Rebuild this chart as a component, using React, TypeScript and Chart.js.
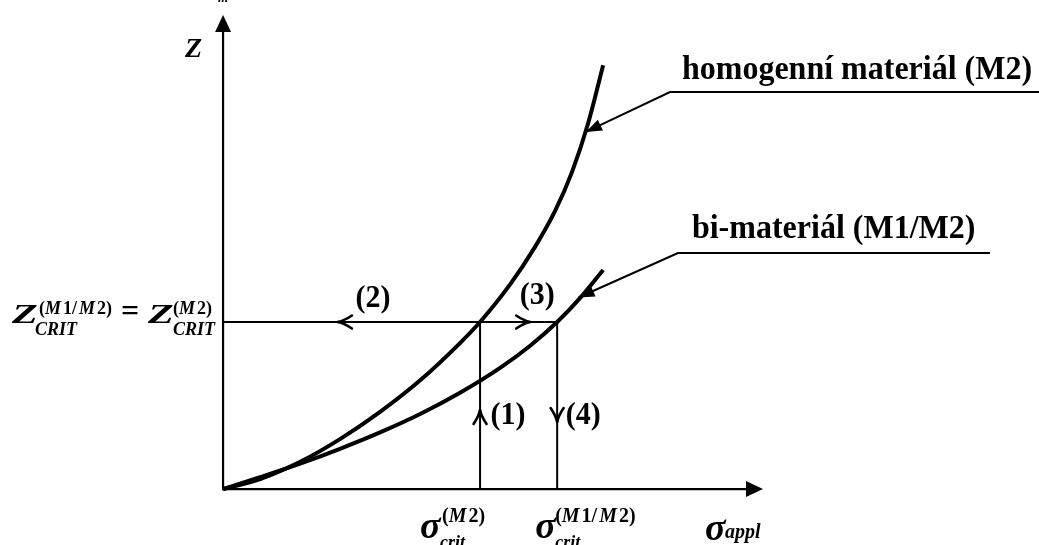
import React, { useEffect, useRef } from "react";
import { Chart, registerables } from "chart.js";

Chart.register(...registerables);

// Applied stress σ_appl (in units of σ_crit of M2) against the crack-driving quantity Z (in units of Z_crit)
const homogeneousSigma = [0, 0.144, 0.3, 0.455, 0.611, 0.767, 0.922, 1.0, 1.117, 1.214, 1.292, 1.358, 1.42, 1.479];
const homogeneousZ = [0, 0.059, 0.163, 0.299, 0.462, 0.651, 0.874, 1.0, 1.225, 1.45, 1.665, 1.899, 2.187, 2.537];
const bimaterialSigma = [0, 0.144, 0.3, 0.455, 0.611, 0.767, 0.922, 1.078, 1.195, 1.3, 1.389, 1.479];
const bimaterialZ = [0, 0.071, 0.152, 0.241, 0.339, 0.449, 0.576, 0.725, 0.858, 1.0, 1.143, 1.311];

// Critical values
const zCrit = 1.0;
const sigmaCritM2 = 1.0;
const sigmaCritM1M2 = 1.3;

// Axis extents (arrow tips)
const sigmaAxisEnd = 2.101;
const zAxisEnd = 2.838;

// Visible ranges of the two scales
const sigmaRange = [-0.868, 3.175];
const zRange = [-0.335, 2.928];

// Leader lines pointing at each curve: [label end, elbow, tip]
const homogeneousLeaderSigma = [3.3, 1.739, 1.412];
const homogeneousLeaderZ = [2.377, 2.377, 2.138];
const bimaterialLeaderSigma = [2.984, 1.77, 1.383];
const bimaterialLeaderZ = [1.413, 1.413, 1.147];

// Step markers along the construction lines
const stepLabels = ["(1)", "(2)", "(3)", "(4)"];
const stepSigma = [sigmaCritM2, 0.447, 1.195, sigmaCritM1M2];
const stepZ = [0.473, zCrit, zCrit, 0.401];
const stepDir = ["up", "left", "right", "down"];

const curveLabels = ["homogenní materiál (M2)", "bi-materiál (M1/M2)"];

const W = 1039;
const H = 545;
const SERIF = '"Liberation Serif", "Times New Roman", serif';

const pts = (xs: number[], ys: number[]) => xs.map((x, i) => ({ x, y: ys[i] }));

function fontOf(size: number, italic = false) {
  return `${italic ? "italic " : ""}bold ${size}px ${SERIF}`;
}

function put(
  ctx: CanvasRenderingContext2D,
  s: string,
  x: number,
  y: number,
  size: number,
  italic = false,
  align: CanvasTextAlign = "left",
  sx = 1,
  sy = 1
) {
  ctx.save();
  ctx.font = fontOf(size, italic);
  ctx.textAlign = align;
  ctx.textBaseline = "alphabetic";
  ctx.translate(x, y);
  ctx.scale(sx, sy);
  ctx.fillText(s, 0, 0);
  ctx.restore();
}

type Run = { t: string; it?: boolean; gap?: number };

function runs(ctx: CanvasRenderingContext2D, list: Run[], x: number, y: number, size: number) {
  let cx = x;
  for (const r of list) {
    ctx.font = fontOf(size, !!r.it);
    ctx.textAlign = "left";
    ctx.textBaseline = "alphabetic";
    ctx.fillText(r.t, cx, y);
    cx += ctx.measureText(r.t).width + (r.gap || 0);
  }
  return cx;
}

const supM2: Run[] = [{ t: "(" }, { t: "M", it: true, gap: 2 }, { t: "2" }, { t: ")" }];
const supM1M2: Run[] = [
  { t: "(" },
  { t: "M", it: true, gap: 2 },
  { t: "1" },
  { t: "/", gap: 2 },
  { t: "M", it: true, gap: 2 },
  { t: "2" },
  { t: ")" },
];

function filledHead(ctx: CanvasRenderingContext2D, tx: number, ty: number, fx: number, fy: number, len: number, half: number) {
  const d = Math.hypot(tx - fx, ty - fy) || 1;
  const ux = (tx - fx) / d;
  const uy = (ty - fy) / d;
  const nx = -uy;
  const ny = ux;
  ctx.beginPath();
  ctx.moveTo(tx, ty);
  ctx.lineTo(tx - ux * len + nx * half, ty - uy * len + ny * half);
  ctx.lineTo(tx - ux * len - nx * half, ty - uy * len - ny * half);
  ctx.closePath();
  ctx.fill();
}

function openHead(ctx: CanvasRenderingContext2D, tx: number, ty: number, dir: string) {
  const v: Record<string, [number, number]> = { up: [0, -1], down: [0, 1], left: [-1, 0], right: [1, 0] };
  const [ux, uy] = v[dir];
  const nx = -uy;
  const ny = ux;
  const L = 14;
  const Wd = 6.5;
  ctx.save();
  ctx.lineWidth = 2.6;
  ctx.lineCap = "round";
  for (const s of [1, -1]) {
    ctx.beginPath();
    ctx.moveTo(tx - ux * L + nx * Wd * s, ty - uy * L + ny * Wd * s);
    ctx.quadraticCurveTo(
      tx - ux * L * 0.45 + nx * Wd * s * 0.2,
      ty - uy * L * 0.45 + ny * Wd * s * 0.2,
      tx,
      ty
    );
    ctx.stroke();
  }
  ctx.restore();
}

const decorations = {
  id: "decorations",
  afterDatasetsDraw(chart: any) {
    const ctx: CanvasRenderingContext2D = chart.ctx;
    const xs = chart.scales.x;
    const ys = chart.scales.y;
    const X = (v: number) => xs.getPixelForValue(v);
    const Y = (v: number) => ys.getPixelForValue(v);
    ctx.save();
    ctx.fillStyle = "#000";
    ctx.strokeStyle = "#000";

    const ox = X(0);
    const oy = Y(0);
    const zc = Y(zCrit);
    const s1 = X(sigmaCritM2);
    const s2 = X(sigmaCritM1M2);
    const xe = X(sigmaAxisEnd);
    const ye = Y(zAxisEnd);

    // axis arrow heads
    filledHead(ctx, ox, ye, ox, oy, 17, 8);
    filledHead(ctx, xe, oy, ox, oy, 17, 8);

    // leader arrow heads
    const n = homogeneousLeaderSigma.length - 1;
    filledHead(
      ctx,
      X(homogeneousLeaderSigma[n]),
      Y(homogeneousLeaderZ[n]),
      X(homogeneousLeaderSigma[n - 1]),
      Y(homogeneousLeaderZ[n - 1]),
      16,
      6
    );
    filledHead(
      ctx,
      X(bimaterialLeaderSigma[n]),
      Y(bimaterialLeaderZ[n]),
      X(bimaterialLeaderSigma[n - 1]),
      Y(bimaterialLeaderZ[n - 1]),
      16,
      6
    );

    // step markers and their numbers
    const numOffset: Record<string, [number, number]> = {
      up: [28, 14],
      left: [35, -15],
      right: [7, -18],
      down: [26, 2],
    };
    stepLabels.forEach((lab, i) => {
      const px = X(stepSigma[i]);
      const py = Y(stepZ[i]);
      openHead(ctx, px, py, stepDir[i]);
      const [dx, dy] = numOffset[stepDir[i]];
      put(ctx, lab, px + dx, py + dy, 30, false, "center", 1, 1.06);
    });

    // curve names above the leader elbows
    put(ctx, curveLabels[0], X(homogeneousLeaderSigma[1]) + 12, Y(homogeneousLeaderZ[1]) - 13, 32, false, "left", 1, 1.08);
    put(ctx, curveLabels[1], X(bimaterialLeaderSigma[1]) + 14, Y(bimaterialLeaderZ[1]) - 15, 32, false, "left", 1, 1.06);

    // axis names
    put(ctx, "Z", ox - 38, ye + 42, 28, true);
    put(ctx, "m", ox - 5, ye - 13, 13, true);
    put(ctx, "σ", xe - 58, oy + 51, 38, true);
    put(ctx, "appl", xe - 38, oy + 49, 20, true);

    // Z_CRIT^(M1/M2) = Z_CRIT^(M2)
    put(ctx, "Z", ox - 211, zc + 1, 28, true, "left", 1.5);
    runs(ctx, supM1M2, ox - 184, zc - 8, 18);
    put(ctx, "CRIT", ox - 188, zc + 13, 18, true);
    put(ctx, "=", ox - 102, zc - 1, 32);
    put(ctx, "Z", ox - 75, zc + 1, 28, true, "left", 1.5);
    runs(ctx, supM2, ox - 50, zc - 8, 18);
    put(ctx, "CRIT", ox - 50, zc + 13, 18, true);

    // σ_crit^(M2) and σ_crit^(M1/M2)
    put(ctx, "σ", s1 - 60, oy + 49, 38, true);
    runs(ctx, supM2, s1 - 38, oy + 33, 20);
    put(ctx, "crit", s1 - 40, oy + 59, 18, true);
    put(ctx, "σ", s2 - 22, oy + 49, 38, true);
    runs(ctx, supM1M2, s2 - 2, oy + 33, 20);
    put(ctx, "crit", s2 - 2, oy + 59, 18, true);

    ctx.restore();
  },
};

export default function App() {
  const ref = useRef<HTMLCanvasElement | null>(null);

  useEffect(() => {
    if (!ref.current) return;
    const line = (data: any[], width: number, extra: any = {}) => ({
      data,
      showLine: true,
      borderColor: "#000",
      backgroundColor: "#000",
      borderWidth: width,
      pointRadius: 0,
      fill: false,
      tension: 0,
      ...extra,
    });
    const chart = new Chart(ref.current, {
      type: "scatter",
      data: {
        datasets: [
          // axes
          line(
            [
              { x: 0, y: zAxisEnd - 0.05 },
              { x: 0, y: 0 },
              { x: sigmaAxisEnd - 0.03, y: 0 },
            ],
            2.2
          ),
          // construction lines
          line(
            [
              { x: 0, y: zCrit },
              { x: sigmaCritM1M2, y: zCrit },
            ],
            2
          ),
          line(
            [
              { x: sigmaCritM2, y: 0 },
              { x: sigmaCritM2, y: zCrit },
            ],
            2
          ),
          line(
            [
              { x: sigmaCritM1M2, y: 0 },
              { x: sigmaCritM1M2, y: zCrit },
            ],
            2
          ),
          // leader lines
          line(pts(homogeneousLeaderSigma, homogeneousLeaderZ), 2),
          line(pts(bimaterialLeaderSigma, bimaterialLeaderZ), 2),
          // curves
          line(pts(homogeneousSigma, homogeneousZ), 4, { cubicInterpolationMode: "monotone", borderCapStyle: "butt" }),
          line(pts(bimaterialSigma, bimaterialZ), 4, { cubicInterpolationMode: "monotone", borderCapStyle: "butt" }),
        ],
      },
      options: {
        animation: false,
        responsive: false,
        maintainAspectRatio: false,
        layout: { padding: 0 },
        plugins: { legend: { display: false }, tooltip: { enabled: false } },
        scales: {
          x: { type: "linear", min: sigmaRange[0], max: sigmaRange[1], display: false },
          y: { type: "linear", min: zRange[0], max: zRange[1], display: false },
        },
      },
      plugins: [decorations],
    });
    return () => chart.destroy();
  }, []);

  return (
    <div style={{ position: "fixed", left: 0, top: 0, width: W, height: H, background: "#fff" }}>
      <canvas ref={ref} width={W} height={H} style={{ width: W, height: H, display: "block" }} />
    </div>
  );
}
